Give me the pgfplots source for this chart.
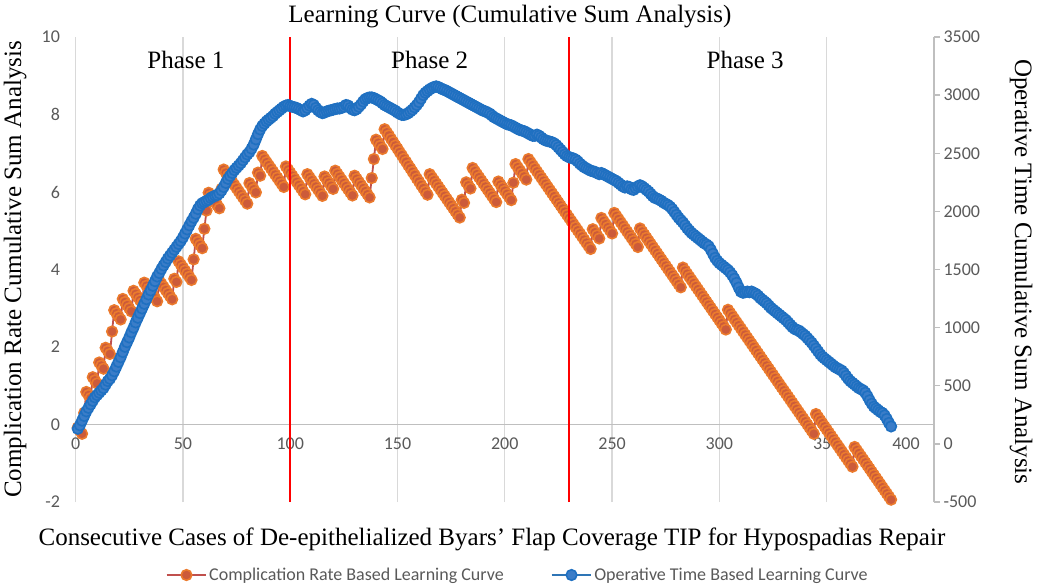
\documentclass[border=0pt]{standalone}
\usepackage{fontspec}
\setmainfont{Liberation Serif}
\newfontfamily\calib{Carlito}
\usepackage{pgfplots}
\usepackage{pgfplotstable}
\pgfplotsset{compat=1.18}
\definecolor{ticktext}{HTML}{595959}
\definecolor{gridc}{HTML}{D9D9D9}
\definecolor{axisc}{HTML}{BFBFBF}
\definecolor{orline}{HTML}{C0504D}
\definecolor{orfill}{HTML}{CC5B3A}
\definecolor{ordraw}{HTML}{EB7A2C}
\definecolor{blline}{HTML}{2E75B6}
\definecolor{blfill}{HTML}{3B7DC8}
\definecolor{bldraw}{HTML}{1F70C1}
\pgfplotstableread{
n c t
1 -0.08 130
2 -0.16 160
3 -0.24 200
4 0.30 240
5 0.84 280
6 0.76 310
7 0.68 340
8 1.22 370
9 1.14 400
10 1.06 420
11 1.60 440
12 1.52 460
13 1.44 480
14 1.98 510
15 1.90 540
16 1.82 560
17 2.40 590
18 2.95 625
19 2.87 665
20 2.79 705
21 2.71 745
22 3.24 790
23 3.16 835
24 3.08 875
25 3.00 915
26 2.92 960
27 3.45 1000
28 3.37 1045
29 3.29 1085
30 3.21 1125
31 3.13 1165
32 3.66 1205
33 3.58 1245
34 3.50 1285
35 3.42 1320
36 3.34 1360
37 3.26 1400
38 3.18 1440
39 3.71 1470
40 3.63 1505
41 3.55 1535
42 3.47 1565
43 3.39 1595
44 3.31 1620
45 3.23 1645
46 3.76 1670
47 3.68 1695
48 4.21 1720
49 4.13 1745
50 4.05 1775
51 3.97 1810
52 3.89 1845
53 3.81 1880
54 3.73 1915
55 4.26 1945
56 4.79 1980
57 4.71 2020
58 4.63 2050
59 4.55 2070
60 5.05 2080
61 5.52 2090
62 5.98 2100
63 5.90 2115
64 5.82 2125
65 5.74 2135
66 5.66 2140
67 5.58 2155
68 6.08 2180
69 6.58 2210
70 6.50 2245
71 6.42 2280
72 6.34 2305
73 6.26 2330
74 6.18 2355
75 6.10 2375
76 6.02 2395
77 5.94 2415
78 5.86 2440
79 5.78 2465
80 5.70 2490
81 6.23 2510
82 6.15 2540
83 6.07 2575
84 5.99 2620
85 6.50 2665
86 6.42 2705
87 6.93 2735
88 6.85 2755
89 6.77 2775
90 6.69 2790
91 6.61 2805
92 6.53 2820
93 6.45 2840
94 6.37 2855
95 6.29 2870
96 6.21 2885
97 6.13 2900
98 6.66 2910
99 6.58 2915
100 6.50 2905
101 6.42 2900
102 6.34 2895
103 6.26 2890
104 6.18 2880
105 6.10 2870
106 6.02 2860
107 5.94 2870
108 6.46 2890
109 6.38 2910
110 6.30 2925
111 6.22 2915
112 6.14 2890
113 6.06 2870
114 5.98 2855
115 5.90 2845
116 6.40 2850
117 6.32 2860
118 6.24 2865
119 6.16 2870
120 6.08 2875
121 6.55 2880
122 6.47 2885
123 6.39 2885
124 6.31 2890
125 6.23 2900
126 6.15 2915
127 6.07 2910
128 5.99 2890
129 5.91 2875
130 6.42 2870
131 6.34 2880
132 6.26 2900
133 6.18 2920
134 6.10 2945
135 6.02 2965
136 5.94 2975
137 5.86 2980
138 6.36 2980
139 6.85 2975
140 7.35 2965
141 7.27 2955
142 7.19 2945
143 7.11 2930
144 7.62 2915
145 7.54 2905
146 7.46 2895
147 7.37 2885
148 7.29 2875
149 7.20 2865
150 7.12 2850
151 7.03 2840
152 6.95 2830
153 6.86 2830
154 6.78 2835
155 6.69 2845
156 6.61 2860
157 6.52 2875
158 6.44 2895
159 6.35 2915
160 6.27 2940
161 6.18 2970
162 6.10 3000
163 6.01 3020
164 5.93 3035
165 6.46 3050
166 6.38 3060
167 6.30 3070
168 6.22 3075
169 6.14 3070
170 6.06 3060
171 5.98 3050
172 5.90 3045
173 5.82 3035
174 5.74 3025
175 5.66 3015
176 5.58 3005
177 5.50 2995
178 5.42 2985
179 5.34 2975
180 5.80 2965
181 5.72 2955
182 6.25 2945
183 6.17 2935
184 6.09 2925
185 6.62 2915
186 6.54 2905
187 6.46 2895
188 6.38 2885
189 6.30 2875
190 6.22 2865
191 6.14 2860
192 6.06 2850
193 5.98 2840
194 5.90 2825
195 5.82 2810
196 5.74 2800
197 6.27 2790
198 6.19 2780
199 6.11 2770
200 6.03 2760
201 5.95 2750
202 5.87 2745
203 5.79 2740
204 6.24 2730
205 6.72 2720
206 6.64 2710
207 6.56 2700
208 6.48 2695
209 6.40 2690
210 6.32 2680
211 6.85 2670
212 6.77 2660
213 6.69 2650
214 6.61 2650
215 6.53 2660
216 6.45 2650
217 6.37 2635
218 6.29 2620
219 6.21 2610
220 6.13 2605
221 6.05 2600
222 5.97 2595
223 5.89 2585
224 5.81 2570
225 5.73 2550
226 5.65 2530
227 5.57 2510
228 5.49 2490
229 5.41 2475
230 5.33 2465
231 5.25 2460
232 5.17 2455
233 5.09 2445
234 5.01 2430
235 4.93 2410
236 4.85 2395
237 4.77 2380
238 4.69 2370
239 4.61 2360
240 4.53 2350
241 5.04 2345
242 4.96 2340
243 4.88 2330
244 4.80 2320
245 5.33 2330
246 5.25 2320
247 5.17 2310
248 5.09 2300
249 5.01 2290
250 4.93 2280
251 5.46 2270
252 5.38 2260
253 5.30 2245
254 5.22 2230
255 5.14 2215
256 5.06 2205
257 4.98 2215
258 4.90 2210
259 4.82 2190
260 4.74 2185
261 4.66 2200
262 4.58 2215
263 5.06 2225
264 4.98 2215
265 4.90 2200
266 4.82 2185
267 4.74 2170
268 4.66 2150
269 4.58 2130
270 4.50 2115
271 4.42 2110
272 4.34 2100
273 4.26 2090
274 4.18 2075
275 4.10 2065
276 4.02 2055
277 3.94 2040
278 3.86 2020
279 3.78 1995
280 3.70 1970
281 3.62 1945
282 3.54 1925
283 4.05 1905
284 3.97 1880
285 3.89 1855
286 3.81 1835
287 3.73 1815
288 3.65 1800
289 3.57 1785
290 3.49 1770
291 3.41 1755
292 3.33 1740
293 3.25 1725
294 3.17 1715
295 3.09 1700
296 3.01 1670
297 2.93 1635
298 2.85 1600
299 2.77 1575
300 2.69 1555
301 2.61 1540
302 2.53 1525
303 2.45 1510
304 2.96 1495
305 2.88 1475
306 2.80 1450
307 2.72 1420
308 2.64 1385
309 2.56 1345
310 2.48 1310
311 2.40 1300
312 2.32 1305
313 2.24 1310
314 2.16 1305
315 2.08 1310
316 2.00 1300
317 1.92 1290
318 1.84 1275
319 1.76 1255
320 1.68 1240
321 1.60 1225
322 1.52 1210
323 1.44 1190
324 1.36 1170
325 1.28 1155
326 1.20 1140
327 1.12 1125
328 1.04 1110
329 0.96 1095
330 0.88 1080
331 0.80 1065
332 0.72 1045
333 0.64 1025
334 0.56 1005
335 0.48 990
336 0.40 980
337 0.32 975
338 0.24 960
339 0.16 945
340 0.08 930
341 0.00 910
342 -0.08 890
343 -0.16 870
344 -0.24 845
345 0.27 820
346 0.19 795
347 0.11 770
348 0.03 750
349 -0.05 735
350 -0.13 720
351 -0.21 705
352 -0.29 690
353 -0.37 675
354 -0.45 660
355 -0.53 650
356 -0.61 640
357 -0.69 630
358 -0.77 610
359 -0.85 585
360 -0.93 560
361 -1.01 540
362 -1.09 525
363 -0.58 510
364 -0.66 495
365 -0.74 480
366 -0.82 470
367 -0.90 460
368 -0.98 440
369 -1.06 410
370 -1.14 375
371 -1.22 345
372 -1.30 320
373 -1.38 305
374 -1.46 290
375 -1.54 275
376 -1.62 265
377 -1.70 245
378 -1.78 215
379 -1.86 180
380 -1.94 150
}\cusum
\pgfplotsset{
  orstyle/.style={color=orline, line width=1.8bp, mark=*, mark size=5.3bp,
    mark options={draw=ordraw, fill=orfill, line width=1.6bp, solid}},
  blstyle/.style={color=blline, line width=1.8bp, mark=*, mark size=5.3bp,
    mark options={draw=bldraw, fill=blfill, line width=1.6bp, solid}},
  tickfont/.style={font=\calib\fontsize{18bp}{20bp}\selectfont, text=ticktext},
}
\begin{document}
\begin{tikzpicture}
\path[use as bounding box] (-75.6bp,-84bp) rectangle (964.4bp,502bp);
\begin{axis}[
  at={(0,0)}, anchor=south west,
  scale only axis, width=858.4bp, height=465bp,
  xmin=0, xmax=400, ymin=-2, ymax=10,
  axis x line=middle, axis y line=left,
  x axis line style={-, draw=axisc, line width=1.5bp},
  y axis line style={draw=none},
  xtick={0,50,...,350},
  extra x ticks={400},
  extra x tick style={grid=major, xticklabel style={xshift=-28bp}},
  ytick={-2,0,...,10},
  tick style={draw=none},
  xmajorgrids, grid style={draw=gridc, line width=1.3bp},
  ticklabel style={tickfont},
  /pgf/number format/assume math mode=true,
  xticklabel style={yshift=-8bp},
  yticklabel style={xshift=-10bp},
  hide obscured x ticks=false, hide obscured y ticks=false,
  clip=false,
]
\addplot[orstyle] table[x=n, y=c] {\cusum};
\node[anchor=base, font=\fontsize{25bp}{30bp}\selectfont] at (axis cs:51.4,9.18) {Phase 1};
\node[anchor=base, font=\fontsize{25bp}{30bp}\selectfont] at (axis cs:165,9.18) {Phase 2};
\node[anchor=base, font=\fontsize{25bp}{30bp}\selectfont] at (axis cs:312,9.18) {Phase 3};
\node[anchor=base, font=\fontsize{25bp}{30bp}\selectfont] at (rel axis cs:0.506,1.032) {Learning Curve (Cumulative Sum Analysis)};
\node[anchor=base, font=\fontsize{25bp}{30bp}\selectfont] at (rel axis cs:0.485,-0.0925) {Consecutive Cases of De-epithelialized Byars’ Flap Coverage TIP for Hypospadias Repair};
\node[anchor=base, rotate=90, font=\fontsize{25bp}{30bp}\selectfont] at (rel axis cs:-0.0636,0.5) {Complication Rate Cumulative Sum Analysis};
\node[anchor=base, rotate=-90, font=\fontsize{25bp}{30bp}\selectfont] at (rel axis cs:1.0944,0.495) {Operative Time Cumulative Sum Analysis};
\end{axis}
\begin{axis}[
  at={(0,0)}, anchor=south west,
  scale only axis, width=858.4bp, height=465bp,
  xmin=0, xmax=400, ymin=-500, ymax=3500,
  axis x line=none, axis y line*=right,
  y axis line style={-, draw=axisc, line width=1.5bp},
  ytick={-500,0,...,3500},
  tick align=outside, major tick length=6bp,
  ytick style={draw=axisc, line width=1.3bp},
  yticklabel style={tickfont},
  /pgf/number format/assume math mode=true,
  /pgf/number format/1000 sep={},
  clip=false,
  legend style={at={(0.515,-0.157)}, anchor=center, draw=none, fill=none,
    font=\calib\fontsize{18bp}{20bp}\selectfont, text=ticktext,
    /tikz/every even column/.append style={column sep=45bp}},
  legend columns=2,
  legend image code/.code={\draw[mark repeat=2,mark phase=2,#1] plot coordinates {(0cm,0cm) (0.7cm,0cm) (1.4cm,0cm)};},
]
\addlegendimage{orstyle}
\addlegendentry{Complication Rate Based Learning Curve}
\addplot[blstyle] table[x=n, y=t] {\cusum};
\addlegendentry{Operative Time Based Learning Curve}
\addplot[red, line width=1.5bp, mark=none, forget plot] coordinates {(100,-500) (100,3500)};
\addplot[red, line width=1.5bp, mark=none, forget plot] coordinates {(230,-500) (230,3500)};
\end{axis}
\end{tikzpicture}
\end{document}
